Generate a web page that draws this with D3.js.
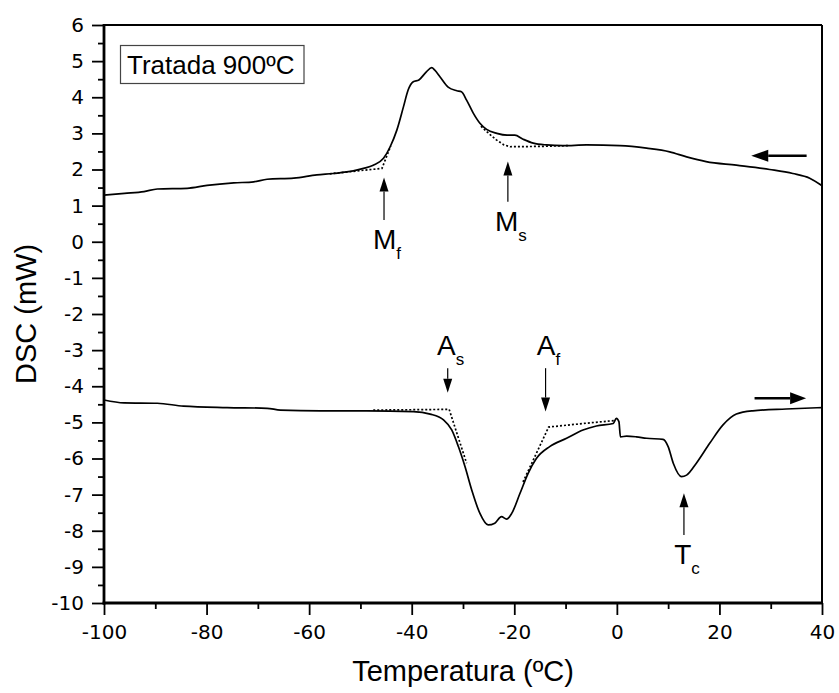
<!DOCTYPE html>
<html>
<head>
<meta charset="utf-8">
<script src="https://cdn.jsdelivr.net/npm/d3@7"></script>
<style>
  body { margin: 0; background: #fff; }
  svg { display: block; }
</style>
</head>
<body>
<svg id="chart" width="839" height="693"></svg>
<script>

// ---- data ----
let xTicks = [-100, -80, -60, -40, -20, 0, 20, 40];
let yTicks = [6, 5, 4, 3, 2, 1, 0, -1, -2, -3, -4, -5, -6, -7, -8, -9, -10];

// cooling run (upper curve), [temperature, dsc]
let cooling = [[-100,1.29],[-96,1.34],[-92.2,1.39],[-89.6,1.46],[-83.8,1.48],[-79.9,1.56],[-74.7,1.63],
  [-70.8,1.66],[-68.2,1.73],[-63,1.76],[-58.5,1.85],[-55.3,1.89],[-51.4,1.96],[-49.4,2.03],[-47.5,2.12],
  [-45.5,2.31],[-44.2,2.63],[-42.9,3.09],[-41.6,3.74],[-40.7,4.20],[-39.7,4.43],[-38.6,4.48],[-37.1,4.71],
  [-36.1,4.82],[-35.5,4.75],[-34.5,4.57],[-32.9,4.28],[-31.2,4.18],[-30.3,4.15],[-29.3,3.92],[-28,3.56],
  [-26.7,3.28],[-25.4,3.11],[-23.4,3.0],[-21.4,2.95],[-19.9,2.95],[-18.3,2.84],[-16.3,2.73],[-13.7,2.68],
  [-10.5,2.66],[-5.9,2.68],[0.6,2.66],[5.8,2.59],[10.3,2.49],[13.6,2.35],[17.4,2.22],[23.3,2.12],
  [29.8,2.0],[34.3,1.89],[37.6,1.76],[39.8,1.57],[40,1.55]];

// heating run (lower curve)
let heating = [[-100,-4.38],[-96.1,-4.46],[-89.6,-4.47],[-84.5,-4.55],[-76,-4.59],[-68.2,-4.61],[-65.6,-4.66],
  [-57.8,-4.68],[-48.8,-4.68],[-39.7,-4.70],[-36.4,-4.77],[-33.8,-4.93],[-32.2,-5.21],[-30.9,-5.67],
  [-29.6,-6.23],[-28.3,-6.87],[-26.7,-7.52],[-25.1,-7.84],[-23.8,-7.79],[-22.5,-7.61],[-21.5,-7.68],
  [-20.5,-7.52],[-18.9,-6.97],[-17.3,-6.41],[-15.7,-6.0],[-13.1,-5.67],[-9.8,-5.44],[-6.6,-5.21],
  [-4,-5.10],[-0.7,-5.03],[-0.1,-4.89],[0.4,-4.98],[0.7,-5.40],[1.9,-5.38],[3.8,-5.40],[5.8,-5.44],
  [9,-5.47],[10,-5.67],[11,-6.13],[12.6,-6.5],[13.6,-6.46],[15.5,-6.13],[18.1,-5.58],[20.7,-5.07],
  [23.3,-4.77],[26.5,-4.68],[33,-4.63],[40,-4.59]];

// dotted tangent / baseline constructions
let mfBase = [[-56,1.88],[-50,1.97],[-45.8,2.03],[-44.1,2.65]];
let msBase = [[-26.5,3.2],[-25,3.0],[-23.5,2.82],[-22,2.68],[-20.8,2.63],[-15,2.64],[-9.5,2.66]];
let asBase = [[-47.5,-4.66],[-32.7,-4.64],[-29.3,-6.13]];
let afBase = [[-18.3,-6.65],[-13.3,-5.13],[-7.2,-5.04],[-0.5,-4.95]];

// transformation temperature markers: name, subscript, T, arrow tail, arrow tip (mW)
let markers = [
  {name:"M", sub:"f", t:-45.4, from:0.60, to:1.78},
  {name:"M", sub:"s", t:-21.25, from:1.11, to:2.22},
  {name:"A", sub:"s", t:-32.98, from:-3.50, to:-4.18},
  {name:"A", sub:"f", t:-13.9, from:-3.50, to:-4.70},
  {name:"T", sub:"c", t:13.08, from:-8.12, to:-6.96}
];

// run direction arrows: [t start, t end, dsc]
let coolArrow = [37.0, 26.2, 2.38];
let heatArrow = [26.85, 36.9, -4.33];

// ---- chart ----
var svg = d3.select("#chart");
var x = d3.scaleLinear().domain([-100, 40]).range([104, 822]);
var y = d3.scaleLinear().domain([-10, 6]).range([603, 25]);

var tickFont = "'DejaVu Sans', sans-serif";
var textFont = "'Liberation Sans', Arial, sans-serif";

// minor ticks
svg.append("g")
   .attr("transform", "translate(0,603)")
   .call(d3.axisBottom(x).tickValues(d3.range(-90, 40, 20)).tickSize(6).tickFormat(""))
   .call(g => g.select(".domain").remove());
svg.append("g")
   .attr("transform", "translate(104,0)")
   .call(d3.axisLeft(y).tickValues(d3.range(-9.5, 6, 1)).tickSize(6).tickFormat(""))
   .call(g => g.select(".domain").remove());

// major ticks + labels (plain hyphen for negatives, as in the original)
var xAxis = svg.append("g")
   .attr("transform", "translate(0,603)")
   .call(d3.axisBottom(x).tickValues(xTicks).tickSize(12).tickPadding(10).tickFormat(d => String(d)));
xAxis.select(".domain").remove();
xAxis.selectAll("text").style("font-family", tickFont).style("font-size", "20px").attr("fill", "#000");

var yAxis = svg.append("g")
   .attr("transform", "translate(104,0)")
   .call(d3.axisLeft(y).tickValues(yTicks).tickSize(12).tickPadding(8).tickFormat(d => String(d)));
yAxis.select(".domain").remove();
yAxis.selectAll("text").style("font-family", tickFont).style("font-size", "20px").attr("fill", "#000");

svg.selectAll(".tick line").attr("stroke", "#000").attr("stroke-width", 1.8);

// frame
svg.append("line").attr("x1", 104).attr("x2", 822).attr("y1", 25).attr("y2", 25)
   .attr("stroke", "#000").attr("stroke-width", 2);
svg.append("line").attr("x1", 822).attr("x2", 822).attr("y1", 25).attr("y2", 603)
   .attr("stroke", "#000").attr("stroke-width", 2);
svg.append("line").attr("x1", 104).attr("x2", 104).attr("y1", 24).attr("y2", 604.5)
   .attr("stroke", "#000").attr("stroke-width", 2.8);
svg.append("line").attr("x1", 102.6).attr("x2", 823).attr("y1", 603).attr("y2", 603)
   .attr("stroke", "#000").attr("stroke-width", 2.8);

// curves
var line = d3.line().x(d => x(d[0])).y(d => y(d[1])).curve(d3.curveMonotoneX);
var straight = d3.line().x(d => x(d[0])).y(d => y(d[1]));

[cooling, heating].forEach(function(c){
    svg.append("path").attr("d", line(c))
       .attr("fill", "none").attr("stroke", "#000").attr("stroke-width", 1.7);
});

[mfBase, msBase, asBase, afBase].forEach(function(c){
    svg.append("path").attr("d", straight(c))
       .attr("fill", "none").attr("stroke", "#000").attr("stroke-width", 1.7)
       .attr("stroke-dasharray", "2,2");
});

// arrow helper: line from (x1,y1) to (x2,y2) with filled head at the end
function arrow( g, x1, y1, x2, y2, w, headLen, headW ){
    var ang = Math.atan2(y2 - y1, x2 - x1);
    var bx = x2 - headLen * Math.cos(ang), by = y2 - headLen * Math.sin(ang);
    g.append("line").attr("x1", x1).attr("y1", y1).attr("x2", bx).attr("y2", by)
     .attr("stroke", "#000").attr("stroke-width", w);
    var px = -Math.sin(ang) * headW / 2, py = Math.cos(ang) * headW / 2;
    g.append("path")
     .attr("d", "M" + x2 + "," + y2 + "L" + (bx + px) + "," + (by + py) + "L" + (bx - px) + "," + (by - py) + "Z")
     .attr("fill", "#000");
}

var ann = svg.append("g");
markers.forEach(function(m){
    var ax = x(m.t);
    arrow(ann, ax, y(m.from), ax, y(m.to), 1.2, 14, 9);
    var down = m.to < m.from;
    var ty = down ? y(m.from) - 13 : y(m.from) + 29;
    var t = ann.append("text")
       .attr("x", ax + 3).attr("y", ty)
       .attr("text-anchor", "middle")
       .style("font-family", textFont).style("font-size", "28px")
       .text(m.name);
    t.append("tspan").attr("dy", 10).style("font-size", "17px").text(m.sub);
});

arrow(ann, x(coolArrow[0]), y(coolArrow[2]), x(coolArrow[1]), y(coolArrow[2]), 2.5, 17, 12);
arrow(ann, x(heatArrow[0]), y(heatArrow[2]), x(heatArrow[1]), y(heatArrow[2]), 2.5, 16, 12);

// legend box
svg.append("rect").attr("x", 120.5).attr("y", 45.5).attr("width", 183.5).attr("height", 38)
   .attr("fill", "#fff").attr("stroke", "#444").attr("stroke-width", 1.2);
svg.append("text").attr("x", 127).attr("y", 73.5)
   .style("font-family", textFont).style("font-size", "26px")
   .text("Tratada 900ºC");

// axis titles
svg.append("text").attr("x", 463).attr("y", 681)
   .attr("text-anchor", "middle")
   .style("font-family", textFont).style("font-size", "29px")
   .text("Temperatura (ºC)");
svg.append("text")
   .attr("transform", "translate(36,314) rotate(-90)")
   .attr("text-anchor", "middle")
   .style("font-family", textFont).style("font-size", "29px")
   .text("DSC (mW)");

</script>
</body>
</html>
